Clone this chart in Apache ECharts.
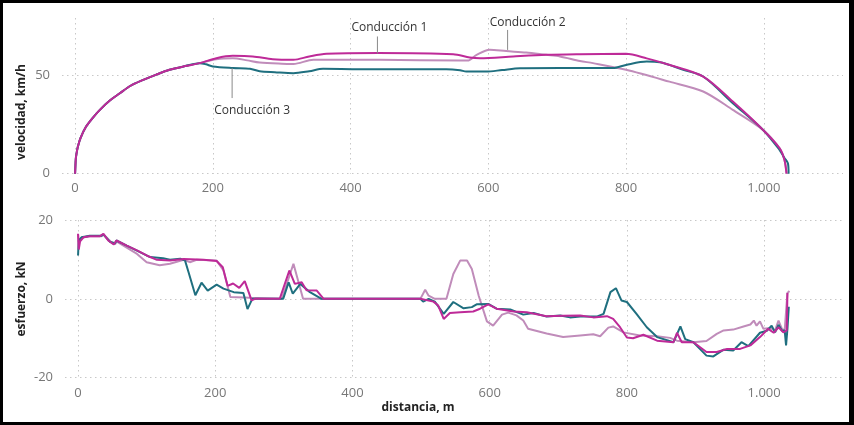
<!DOCTYPE html>
<html>
<head>
<meta charset="utf-8">
<script src="https://cdn.jsdelivr.net/npm/echarts@6/dist/echarts.min.js"></script>
<style>
  html, body { margin: 0; padding: 0; background: #fff; }
  #chart { position: absolute; left: 0; top: 0; width: 854px; height: 425px; }
  #frame { position: absolute; left: 0; top: 0; width: 854px; height: 425px; box-sizing: border-box;
           border-style: solid; border-color: #000; border-width: 3px 5px 3px 3px; pointer-events: none; }
</style>
</head>
<body>
<div id="chart"></div>
<div id="frame"></div>
<script>
// series names
const names = ['Conducción 1', 'Conducción 2', 'Conducción 3'];
const colors = ['#BE2A98', '#C08CBA', '#1F6F7F'];

// velocidad (km/h) vs distancia (m)
const accDist = [0, 1, 2, 4, 8, 16, 26, 36, 50, 65, 80, 99, 118, 137, 160, 181];
const accVel  = [0, 7.4, 10.1, 13.7, 18.2, 23.9, 28.5, 32.4, 37, 40.8, 44.5, 47.6, 50.3, 52.7, 54.6, 56.1];

const vel1Dist = [205, 229, 258, 287, 317, 340, 365, 440, 549, 573, 588, 636, 684, 733, 800, 830, 860, 912, 955, 999, 1023, 1030, 1033];
const vel1     = [58.6, 59.8, 59.5, 58.1, 57.8, 59.5, 60.8, 61.2, 60.6, 59, 58.6, 59.5, 60.3, 60.6, 60.8, 58.5, 55.5, 49.3, 36.6, 22.2, 12.9, 7, 0];

const vel2Dist = [205, 229, 250, 268, 300, 317, 346, 413, 442, 559, 570, 583, 602, 626, 655, 684, 704, 733, 752, 800, 863, 912, 955, 999, 1023, 1030, 1033];
const vel2     = [58.1, 58.6, 57.5, 56.4, 55.8, 55.7, 57.8, 57.8, 57.8, 57.4, 57.4, 60.3, 62.9, 62.2, 61.5, 60.3, 59.5, 57.2, 56.1, 52.7, 46.7, 41.7, 32.4, 22.2, 12.9, 7, 0];

const vel3Dist = [190, 200, 229, 254, 268, 290, 317, 340, 360, 413, 486, 539, 559, 568, 597, 620, 646, 704, 781, 800, 830, 849, 883, 912, 955, 999, 1023, 1030, 1035, 1036];
const vel3     = [55.5, 54.4, 53.6, 53.2, 52, 51.5, 51, 52, 53.2, 53, 53, 53, 52.5, 51.8, 51.8, 52.6, 53.5, 53.6, 53.6, 55.2, 56.9, 56.6, 52.7, 49.3, 35.8, 22.2, 12, 8, 5.3, 0];

// esfuerzo (kN) vs distancia (m)
const f1Dist = [0, 1, 3, 8, 17, 32, 37, 44, 52, 56, 71, 86, 100, 115, 134, 154, 183, 202, 211, 218, 226, 235, 243, 253, 258, 294, 308, 316, 326, 333, 348, 358, 499, 518, 525, 533, 542, 557, 576, 586, 598, 610, 635, 654, 683, 707, 732, 751, 771, 780, 790, 800, 809, 824, 844, 868, 873, 880, 897, 916, 931, 946, 965, 980, 994, 1006, 1014, 1021, 1028, 1033, 1034];
const f1     = [16.5, 12.5, 14.6, 15.6, 15.9, 15.9, 16.5, 14.8, 13.8, 14.8, 13.5, 12.3, 11, 9.9, 9.7, 10.1, 9.9, 9.6, 8, 3.3, 3.9, 2.8, 4.5, -0.4, 0, 0, 7.2, 3.8, 4.2, 2.2, 2.1, 0, 0, -0.7, -1.7, -5.1, -3.6, -3.4, -3.2, -2.5, -1.4, -2.5, -3.2, -3.4, -4.4, -4.3, -4.2, -4.7, -4.4, -5.1, -7.2, -9.8, -10, -9.1, -10.6, -11, -8.6, -11, -11, -13.5, -13.5, -12.7, -12.7, -11.8, -9.7, -7.6, -8.6, -7.2, -8.5, -8, 1.5];

const f2Dist = [0, 1, 5, 17, 34, 37, 47, 54, 56, 71, 86, 100, 119, 134, 154, 163, 173, 202, 212, 222, 250, 297, 314, 328, 499, 506, 511, 520, 537, 547, 557, 567, 574, 584, 596, 605, 618, 627, 639, 649, 656, 683, 707, 732, 751, 761, 773, 780, 795, 819, 844, 863, 873, 897, 916, 931, 941, 955, 970, 980, 985, 989, 994, 999, 1009, 1016, 1021, 1026, 1030, 1034, 1037];
const f2     = [16.4, 14.5, 15.5, 15.9, 15.9, 16.4, 14.6, 13.8, 14.6, 13, 11.4, 9.3, 8.5, 8.9, 9.9, 9.3, 9.9, 9.7, 7.2, 0.5, 0.3, 0, 8.9, 0, 0, 2.3, 0.8, 0, 0, 6.3, 9.7, 9.7, 7.6, 0.8, -5.7, -6.8, -4, -3.5, -4.2, -5.5, -7.6, -8.8, -9.7, -9.3, -9, -9.5, -7.3, -7, -8.5, -9.3, -9.5, -9.9, -10.6, -11, -10.7, -8.9, -8, -7.8, -7, -6.5, -5.5, -6.8, -5.7, -7.6, -7.4, -8, -5.5, -7.6, -8, 1.5, 2];

const f3Dist = [0, 1, 5, 17, 34, 37, 47, 54, 56, 71, 91, 105, 124, 134, 149, 156, 161, 171, 180, 189, 202, 212, 227, 241, 247, 254, 299, 307, 313, 324, 338, 355, 499, 503, 511, 520, 533, 547, 562, 574, 581, 598, 610, 630, 649, 664, 683, 703, 717, 732, 756, 766, 776, 784, 792, 800, 814, 829, 844, 868, 878, 885, 897, 916, 926, 941, 955, 967, 977, 994, 1004, 1011, 1016, 1021, 1026, 1030, 1032, 1034, 1036];
const f3     = [11, 14.8, 15.6, 16, 16, 16.3, 14.4, 14.1, 14.8, 13.5, 11.8, 10.6, 10.3, 9.9, 10.2, 9.7, 6.8, 0.9, 4.1, 2.1, 3.6, 2.6, 1.7, 1.5, -2.6, 0, 0, 4.2, 1.3, 3.8, 1.7, 0, 0, -0.7, 0, -0.7, -3.8, -0.8, -2.4, -2.1, -1.4, -1.3, -2.5, -2.7, -4, -3.6, -4.5, -4.2, -4.7, -4.5, -4.5, -3.8, 1.7, 2.7, -0.4, -0.8, -3.8, -7.2, -9.7, -11, -7, -10.2, -11, -14.4, -14.6, -12.9, -13.1, -11, -12, -8.6, -8.1, -6.8, -8.5, -6.6, -8.1, -8, -11.8, -7.6, -2];

// etiquetas de las líneas (punto de anclaje en datos)
const annDist = [439, 628, 228];
const annVel  = [61, 62.8, 53.6];

function zip(xs, ys) { return xs.map((x, i) => [x, ys[i]]); }

const chart = echarts.init(document.getElementById('chart'));
const font = '"Open Sans", "Noto Sans", sans-serif';
const gridLine = { show: true, showMinLine: false, showMaxLine: false,
  lineStyle: { color: '#c8c8c8', width: 1, type: [1.5, 3.5] } };
const tickText = { color: '#777', fontSize: 13, fontFamily: font };
function thousands(v) { return String(v).replace(/\B(?=(\d{3})+(?!\d))/g, '.'); }

const xBase = {
  type: 'value', min: -19, max: 1115,
  axisLine: { show: false }, axisTick: { show: false },
  axisLabel: Object.assign({ showMinLabel: false, showMaxLabel: false, formatter: thousands, margin: 8 }, tickText),
  splitLine: gridLine
};

function lineSeries(name, data, idx, color, smooth, z) {
  return { name: name, type: 'line', data: data, xAxisIndex: idx, yAxisIndex: idx,
    showSymbol: false, symbol: 'none', smooth: smooth, z: z,
    lineStyle: { color: color, width: 2 }, itemStyle: { color: color } };
}

chart.setOption({
  animation: false,
  textStyle: { fontFamily: font },
  grid: [
    { left: 62, top: 18, right: 11, bottom: 251.3 },
    { left: 65, top: 220, right: 11, bottom: 47.3 }
  ],
  xAxis: [
    Object.assign({}, xBase, { gridIndex: 0 }),
    Object.assign({}, xBase, { gridIndex: 1, axisLabel: Object.assign({}, xBase.axisLabel, { margin: 9 }) })
  ],
  yAxis: [
    { type: 'value', gridIndex: 0, min: 0, max: 79, interval: 50,
      axisLine: { show: false }, axisTick: { show: false },
      axisLabel: Object.assign({ showMaxLabel: false, margin: 12 }, tickText),
      splitLine: { show: true, showMaxLine: false, lineStyle: gridLine.lineStyle } },
    { type: 'value', gridIndex: 1, min: -20, max: 20, interval: 20,
      axisLine: { show: false }, axisTick: { show: false },
      axisLabel: Object.assign({ margin: 12 }, tickText),
      splitLine: { show: true, lineStyle: gridLine.lineStyle } }
  ],
  series: [
    lineSeries(names[1], zip(accDist, accVel).concat(zip(vel2Dist, vel2)), 0, colors[1], 0.3, 2),
    lineSeries(names[2], zip(accDist, accVel).concat(zip(vel3Dist, vel3)), 0, colors[2], 0.3, 3),
    lineSeries(names[0], zip(accDist, accVel).concat(zip(vel1Dist, vel1)), 0, colors[0], 0.3, 4),
    lineSeries(names[1], zip(f2Dist, f2), 1, colors[1], false, 2),
    lineSeries(names[2], zip(f3Dist, f3), 1, colors[2], false, 3),
    lineSeries(names[0], zip(f1Dist, f1), 1, colors[0], false, 4)
  ]
});

// títulos de ejes y etiquetas con línea guía
const titleStyle = { fill: '#222', font: 'bold 12px ' + font, textAlign: 'center', textVerticalAlign: 'middle' };
const elements = [
  { type: 'text', x: 22, y: 112, rotation: Math.PI / 2, style: Object.assign({ text: 'velocidad, km/h' }, titleStyle) },
  { type: 'text', x: 22, y: 299, rotation: Math.PI / 2, style: Object.assign({ text: 'esfuerzo, kN' }, titleStyle) },
  { type: 'text', x: 418, y: 408, style: Object.assign({ text: 'distancia, m' }, titleStyle) }
];
// leader: [end y offset from anchor, text x offset from leader, text y offset from anchor]
const leaders = [[-17, 12, -26], [-20, 20, -27], [30, 20, 43]];
names.forEach(function (n, i) {
  const p = chart.convertToPixel({ gridIndex: 0 }, [annDist[i], annVel[i]]);
  const L = leaders[i];
  elements.push({ type: 'line', silent: true, z: 10,
    shape: { x1: p[0], y1: p[1], x2: p[0], y2: p[1] + L[0] },
    style: { stroke: '#8a8a8a', lineWidth: 1 } });
  elements.push({ type: 'text', z: 10, x: p[0] + L[1], y: p[1] + L[2],
    style: { text: n, fill: '#333', font: '12px ' + font, textAlign: 'center', textVerticalAlign: 'middle' } });
});
chart.setOption({ graphic: elements });
</script>
</body>
</html>
